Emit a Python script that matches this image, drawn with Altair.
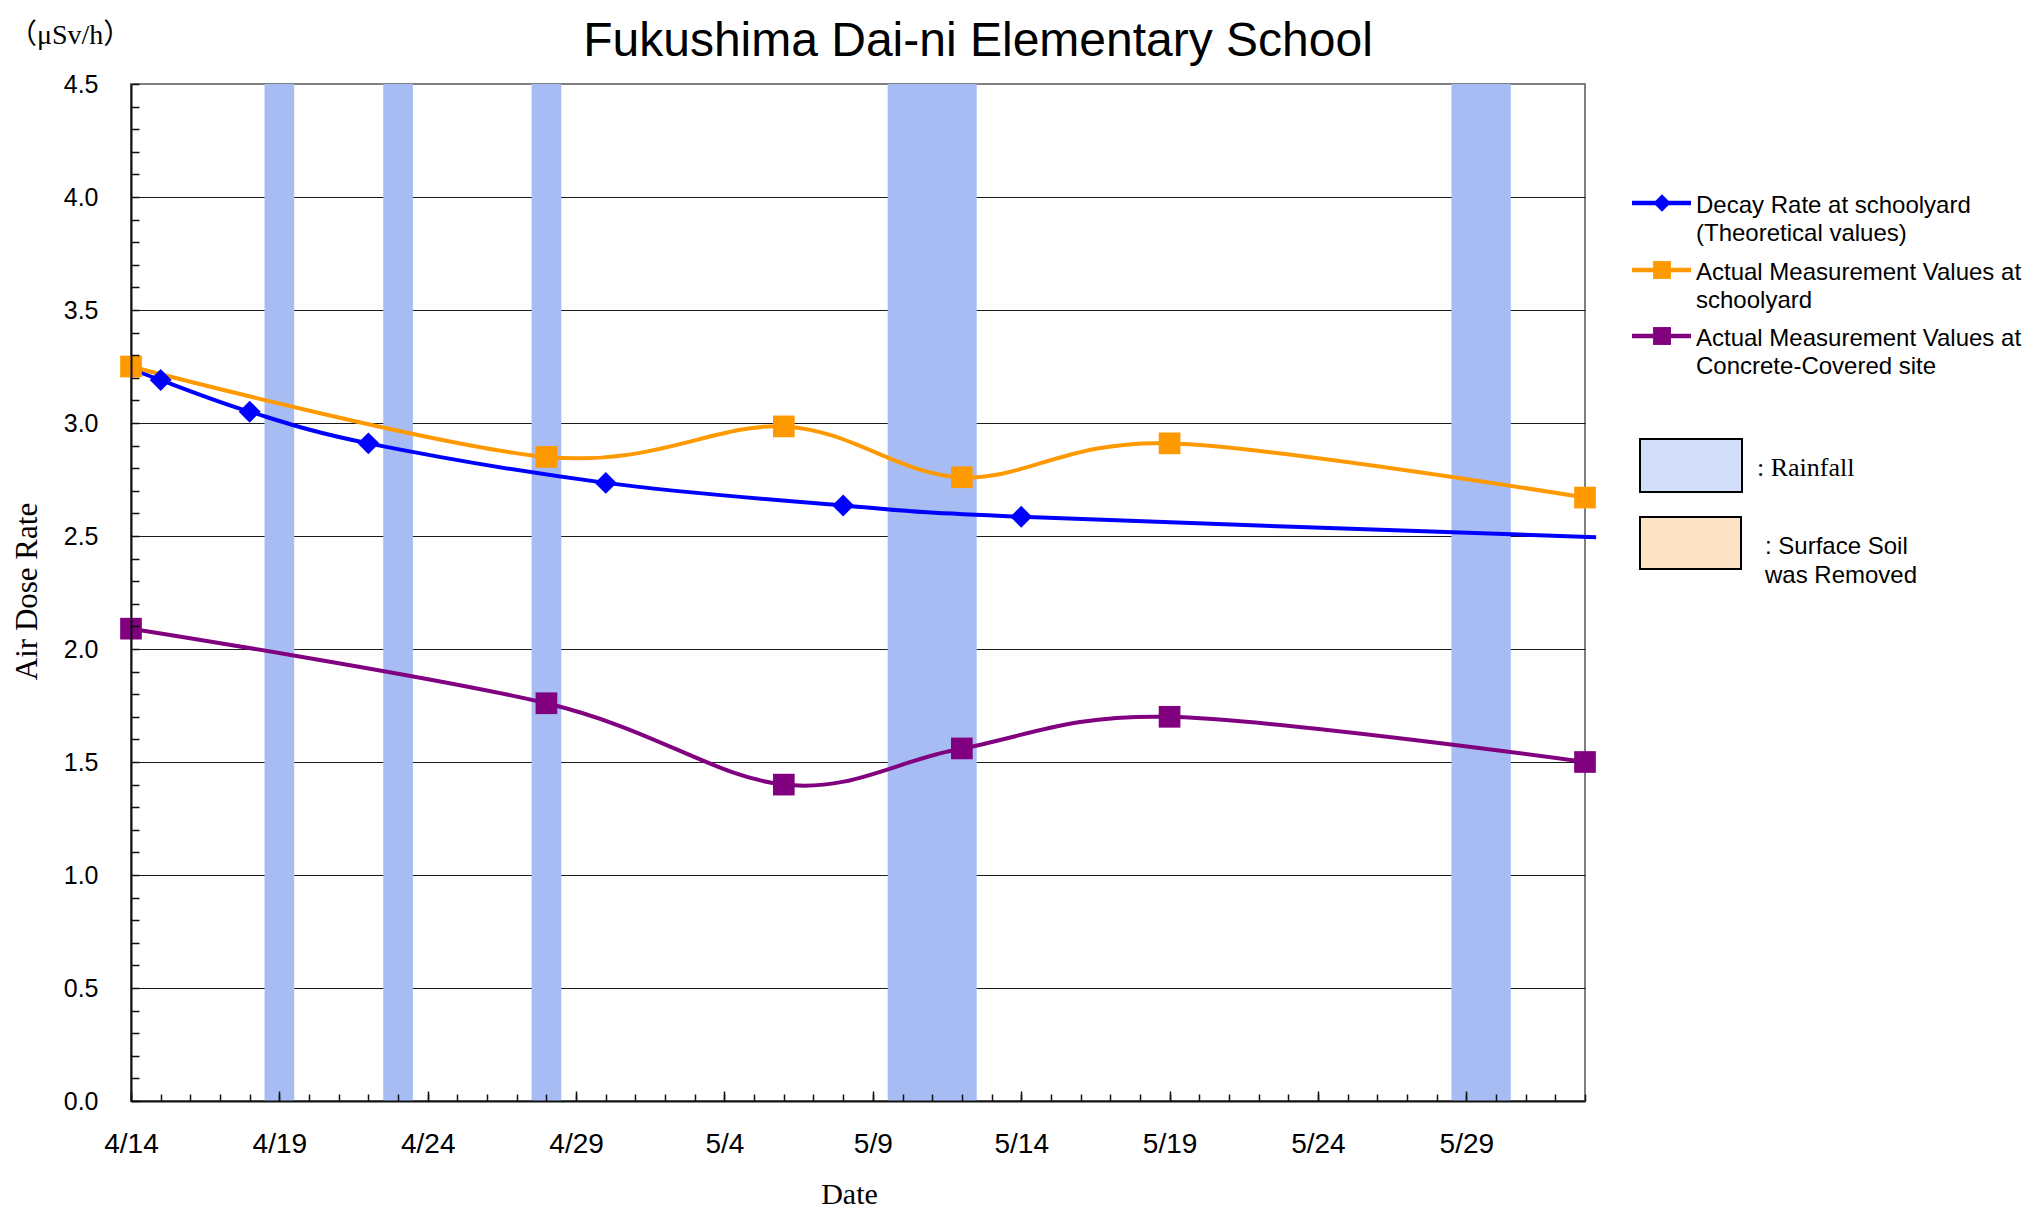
import datetime as dt
import altair as alt
import pandas as pd

# ---------------- data ----------------
TITLE = "Fukushima Dai-ni Elementary School"
UNIT = "（μSv/h）"
Y_TITLE = "Air Dose Rate"
X_TITLE = "Date"

series_names = [
    "Decay Rate at schoolyard (Theoretical values)",
    "Actual Measurement Values at schoolyard",
    "Actual Measurement Values at Concrete-Covered site",
]
legend_labels = [
    "Decay Rate at schoolyard\n(Theoretical values)",
    "Actual Measurement Values at\nschoolyard",
    "Actual Measurement Values at\nConcrete-Covered site",
]
rain_label = ": Rainfall"
soil_label = ": Surface Soil\nwas Removed"

# theoretical decay (blue)
decay_dates = ["2011-04-14T00:00:00Z", "2011-04-15T00:00:00Z", "2011-04-18T00:00:00Z",
               "2011-04-22T00:00:00Z", "2011-04-30T00:00:00Z", "2011-05-08T00:00:00Z",
               "2011-05-14T00:00:00Z", "2011-06-02T09:00:00Z"]
decay_values = [3.24, 3.19, 3.05, 2.91, 2.735, 2.635, 2.585, 2.495]
decay_marker = [False, True, True, True, True, True, True, False]

# measurements (orange / purple)
meas_dates = ["2011-04-14T00:00:00Z", "2011-04-28T00:00:00Z", "2011-05-06T00:00:00Z",
              "2011-05-12T00:00:00Z", "2011-05-19T00:00:00Z", "2011-06-02T00:00:00Z"]
schoolyard_values = [3.25, 2.85, 2.985, 2.76, 2.91, 2.67]
concrete_values = [2.09, 1.76, 1.40, 1.56, 1.70, 1.50]

# rainfall periods
rain_start = ["2011-04-18T12:00:00Z", "2011-04-22T12:00:00Z", "2011-04-27T12:00:00Z",
              "2011-05-09T12:00:00Z", "2011-05-28T12:00:00Z"]
rain_end = ["2011-04-19T12:00:00Z", "2011-04-23T12:00:00Z", "2011-04-28T12:00:00Z",
            "2011-05-12T12:00:00Z", "2011-05-30T12:00:00Z"]

y_major = [0.0, 0.5, 1.0, 1.5, 2.0, 2.5, 3.0, 3.5, 4.0, 4.5]
y_grid = [0.5, 1.0, 1.5, 2.0, 2.5, 3.0, 3.5, 4.0]
y_minor = [round(i * 0.1, 1) for i in range(46)]

# ---------------- styles ----------------
series_colors = ["#0000ff", "#ff9900", "#800080"]
RAIN_FILL = "#a6bcf3"
RAIN_LEGEND_FILL = "#d3dffa"
SOIL_LEGEND_FILL = "#fde3c6"
W, H = 1454, 1017

# ---------------- tables ----------------
rows = []
for d, v in zip(decay_dates, decay_values):
    rows.append({"series": series_names[0], "date": d, "value": v})
for d, v in zip(meas_dates, schoolyard_values):
    rows.append({"series": series_names[1], "date": d, "value": v})
for d, v in zip(meas_dates, concrete_values):
    rows.append({"series": series_names[2], "date": d, "value": v})
lines_df = pd.DataFrame(rows)

diamond_df = pd.DataFrame({
    "series": [series_names[0]] * sum(decay_marker),
    "date": [d for d, m in zip(decay_dates, decay_marker) if m],
    "value": [v for v, m in zip(decay_values, decay_marker) if m],
})
square_df = pd.DataFrame(rows[len(decay_dates):])
rain_df = pd.DataFrame({"start": rain_start, "end": rain_end})

start = dt.date(2011, 4, 14)
all_days = [start + dt.timedelta(days=i) for i in range(50)]
def to_dt(d):
    return alt.DateTime(year=d.year, month=d.month, date=d.day, utc=True)
x_minor = [to_dt(d) for d in all_days]
x_major = [to_dt(d) for d in all_days[::5]]

x_scale = alt.Scale(type="utc", domain=[to_dt(all_days[0]), to_dt(all_days[-1])])
y_scale = alt.Scale(domain=[0, 4.5], nice=False, zero=False)
color_scale = alt.Scale(domain=series_names, range=series_colors)

# ---------------- axes ----------------
x_main_axis = alt.Axis(
    orient="bottom", values=x_major, labelExpr="utcFormat(datum.value, '%-m/%-d')",
    labelFont="Liberation Sans", labelFontSize=28, labelColor="black", labelPadding=29,
    labelFlush=False, labelOverlap=False, ticks=False, tickSize=0,
    domain=True, domainColor="#111111", domainWidth=2, grid=False,
    title=X_TITLE, titleFont="Liberation Serif", titleFontSize=30, titleFontWeight="normal",
    titleColor="black", titleX=718, titleY=102, titleAlign="center", titleBaseline="alphabetic",
    zindex=1)
x_minor_axis = alt.Axis(
    orient="bottom", values=x_minor, offset=-7, tickSize=7, ticks=True, tickColor="#111111",
    tickWidth=1.5, labels=False, domain=False, grid=False, title=None, zindex=1)
x_majtick_axis = alt.Axis(
    orient="bottom", values=x_major, offset=-10, tickSize=10, ticks=True, tickColor="#111111",
    tickWidth=1.5, labels=False, domain=False, grid=False, title=None, zindex=1)

y_main_axis = alt.Axis(
    orient="left", values=y_major, format=".1f",
    labelFont="Liberation Sans", labelFontSize=25, labelColor="black", labelPadding=33,
    labelFlush=False, labelOverlap=False, ticks=False, tickSize=0,
    domain=True, domainColor="#111111", domainWidth=2, grid=False,
    title=Y_TITLE, titleFont="Liberation Serif", titleFontSize=31, titleFontWeight="normal",
    titleColor="black", titleAngle=270, titleX=-104, titleY=507, titleAlign="center",
    titleBaseline="middle", zindex=1)
y_tick_axis = alt.Axis(
    orient="left", values=y_minor, offset=-8, tickSize=8, ticks=True, tickColor="#111111",
    tickWidth=1.5, labels=False, domain=False, grid=False, title=None, zindex=1)
y_grid_axis = alt.Axis(
    orient="left", values=y_grid, grid=True, gridColor="#1a1a1a", gridWidth=1,
    ticks=False, labels=False, domain=False, title=None, zindex=0)

# ---------------- layers ----------------
bands = alt.Chart(rain_df).mark_rect(fill=RAIN_FILL, opacity=1).encode(
    x=alt.X("start:T", scale=x_scale, axis=None),
    x2="end:T",
    y=alt.YDatum(4.5, type="quantitative", scale=y_scale, axis=None),
    y2=alt.datum(0),
)

lines = alt.Chart(lines_df).mark_line(strokeWidth=4, interpolate="cardinal").encode(
    x=alt.X("date:T", scale=x_scale, axis=x_main_axis),
    y=alt.Y("value:Q", scale=y_scale, axis=y_main_axis),
    color=alt.Color("series:N", scale=color_scale, legend=None),
    order=alt.Order("date:T"),
)

diamonds = alt.Chart(diamond_df).mark_point(shape="diamond", filled=True, size=480, opacity=1).encode(
    x=alt.X("date:T", scale=x_scale, axis=x_minor_axis),
    y=alt.Y("value:Q", scale=y_scale, axis=y_tick_axis),
    color=alt.Color("series:N", scale=color_scale, legend=None),
)

squares = alt.Chart(square_df).mark_point(shape="square", filled=True, size=470, opacity=1).encode(
    x=alt.X("date:T", scale=x_scale, axis=x_majtick_axis),
    y=alt.Y("value:Q", scale=y_scale, axis=y_grid_axis),
    color=alt.Color("series:N", scale=color_scale, legend=None),
)

title_layer = alt.Chart(pd.DataFrame({"t": [TITLE]})).mark_text(
    font="Liberation Sans", fontSize=48, align="center", baseline="alphabetic", color="black"
).encode(text="t:N", x=alt.value(847), y=alt.value(-28))

unit_layer = alt.Chart(pd.DataFrame({"t": [UNIT]})).mark_text(
    font="Liberation Serif, Noto Sans CJK JP", fontSize=28, align="left", baseline="alphabetic",
    color="black"
).encode(text="t:N", x=alt.value(-122), y=alt.value(-40))

legend_layers = []
legend_y = [119, 186, 252]
legend_shapes = ["diamond", "square", "square"]
legend_sizes = [300, 320, 320]
for i in range(3):
    ldf = pd.DataFrame({"series": [series_names[i]], "label": [legend_labels[i]]})
    base = alt.Chart(ldf)
    legend_layers.append(base.mark_rule(strokeWidth=4.5, color=series_colors[i]).encode(
        x=alt.value(1501), x2=alt.value(1560), y=alt.value(legend_y[i])))
    legend_layers.append(base.mark_point(shape=legend_shapes[i], filled=True, opacity=1,
                                         size=legend_sizes[i], color=series_colors[i]).encode(
        x=alt.value(1531), y=alt.value(legend_y[i])))
    legend_layers.append(base.mark_text(font="Liberation Sans", fontSize=24, align="left",
                                        baseline="alphabetic", lineBreak="\n", lineHeight=28,
                                        color="black").encode(
        text="label:N", x=alt.value(1565), y=alt.value(legend_y[i] + 10)))

rain_box = alt.Chart(pd.DataFrame({"label": [rain_label]}))
legend_layers.append(rain_box.mark_rect(fill=RAIN_LEGEND_FILL, stroke="black", strokeWidth=2).encode(
    x=alt.value(1509), x2=alt.value(1611), y=alt.value(355), y2=alt.value(408)))
legend_layers.append(rain_box.mark_text(font="Liberation Serif", fontSize=26, align="left",
                                        baseline="alphabetic", color="black").encode(
    text="label:N", x=alt.value(1626), y=alt.value(392)))

soil_box = alt.Chart(pd.DataFrame({"label": [soil_label]}))
legend_layers.append(soil_box.mark_rect(fill=SOIL_LEGEND_FILL, stroke="black", strokeWidth=2).encode(
    x=alt.value(1509), x2=alt.value(1610), y=alt.value(433), y2=alt.value(485)))
legend_layers.append(soil_box.mark_text(font="Liberation Sans", fontSize=24, align="left",
                                        baseline="alphabetic", lineBreak="\n", lineHeight=29,
                                        color="black").encode(
    text="label:N", x=alt.value(1634), y=alt.value(470)))

chart = alt.layer(
    bands, lines, diamonds, squares, title_layer, unit_layer, *legend_layers
).resolve_axis(
    x="independent", y="independent"
).properties(
    width=W, height=H,
    autosize=alt.AutoSizeParams(type="none"),
    padding={"left": 123, "top": 76, "right": 443, "bottom": 110},
    background="white",
).configure_view(
    stroke="#808080", strokeWidth=2
)

chart.save("out.html", embed_options={"renderer": "svg", "actions": False})
